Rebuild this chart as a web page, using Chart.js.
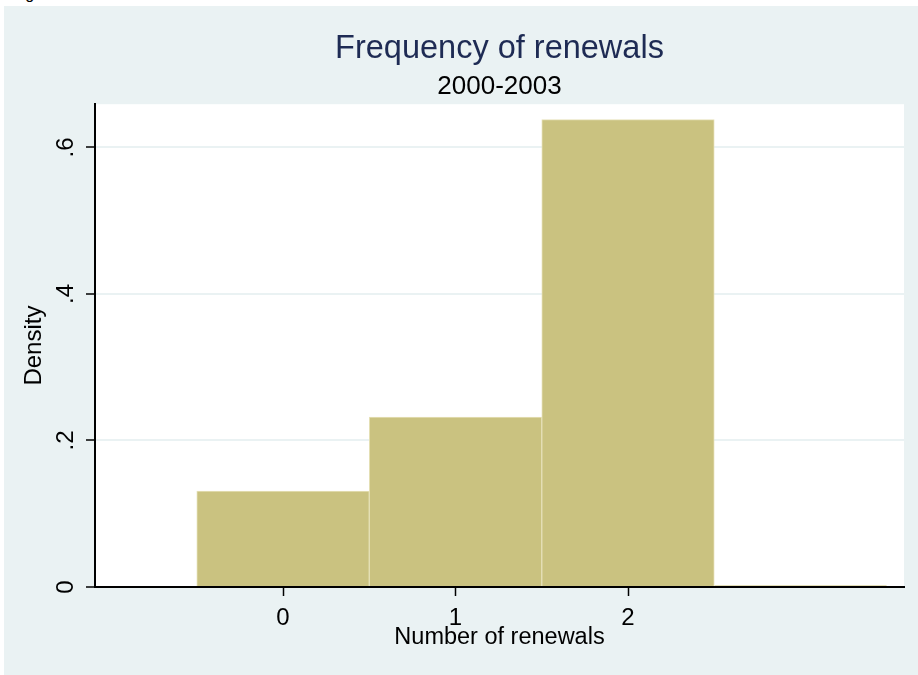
<!DOCTYPE html>
<html>
<head>
<meta charset="utf-8">
<script src="https://cdn.jsdelivr.net/npm/chart.js@4"></script>
<style>
  html, body { margin: 0; padding: 0; background: #fff; }
  #caption { position: absolute; left: 0; top: 0; width: 918px; height: 6px; overflow: hidden; }
  #caption span { position: absolute; left: 12px; top: -15px; font: 16px "Liberation Sans", Arial, sans-serif; color: #000; }
  #wrap { position: absolute; left: 4px; top: 6px; width: 914px; height: 669px; background: #eaf2f3; }
</style>
</head>
<body>
<div id="caption"><span>Figure 3.</span></div>
<div id="wrap"><canvas id="hist" width="914" height="669"></canvas></div>
<script>
// histogram data: number of renewals, density
const renewals = [0, 1, 2, 3];
const density = [0.131, 0.232, 0.638, 0.002];
const xTicks = [0, 1, 2];
const yTicks = [0, 0.2, 0.4, 0.6];
const yTickLabels = ['0', '.2', '.4', '.6'];

const FONT = '"Liberation Sans", Arial, sans-serif';
const BG = '#eaf2f3';

const ctx = document.getElementById('hist').getContext('2d');

new Chart(ctx, {
  type: 'bar',
  data: {
    datasets: [{
      data: renewals.map((r, i) => ({ x: r, y: density[i] })),
      backgroundColor: '#cac280',
      borderColor: '#e6e1b8',
      borderWidth: 1,
      borderSkipped: 'bottom',
      barPercentage: 1,
      categoryPercentage: 1
    }]
  },
  options: {
    responsive: false,
    animation: false,
    layout: { padding: { left: 0, right: 14, top: 0, bottom: 0 } },
    plugins: {
      legend: { display: false },
      tooltip: { enabled: false },
      title: {
        display: true,
        fullSize: false,
        text: 'Frequency of renewals',
        color: '#1e2b54',
        font: { family: FONT, size: 32.5, weight: 'normal' },
        padding: { top: 24, bottom: 0 }
      },
      subtitle: {
        display: true,
        fullSize: false,
        text: '2000-2003',
        color: '#000',
        font: { family: FONT, size: 26, weight: 'normal' },
        padding: { top: 2, bottom: 2 }
      }
    },
    scales: {
      x: {
        type: 'linear',
        offset: false,
        min: -1.09,
        max: 3.6,
        afterBuildTicks: s => { s.ticks = xTicks.map(v => ({ value: v })); },
        afterFit: s => { s.height = 88; },
        grid: { offset: false, drawOnChartArea: false, drawTicks: true, tickLength: 9, tickColor: '#000', tickWidth: 1.5 },
        border: { color: '#000', width: 2 },
        ticks: { color: '#000', font: { family: FONT, size: 24 }, padding: 8, maxRotation: 0 },
        title: {
          display: true,
          text: 'Number of renewals',
          color: '#000',
          font: { family: FONT, size: 23.5 },
          padding: { top: 0, bottom: 23 }
        }
      },
      y: {
        min: 0,
        max: 0.659,
        afterBuildTicks: s => { s.ticks = yTicks.map(v => ({ value: v })); },
        afterFit: s => { s.width = 91; },
        grid: { color: BG, lineWidth: 2, drawTicks: true, tickLength: 9, tickColor: '#000', tickWidth: 1.5 },
        border: { color: '#000', width: 2 },
        ticks: {
          color: '#000',
          font: { family: FONT, size: 24 },
          padding: 10,
          minRotation: 90,
          maxRotation: 90,
          crossAlign: 'center',
          callback: (v, i) => yTickLabels[i]
        },
        title: {
          display: true,
          text: 'Density',
          color: '#000',
          font: { family: FONT, size: 24 },
          padding: { top: 16, bottom: 0 }
        }
      }
    }
  },
  plugins: [{
    id: 'plotBg',
    beforeDraw(chart) {
      const a = chart.chartArea;
      chart.ctx.save();
      chart.ctx.fillStyle = '#fff';
      chart.ctx.fillRect(a.left, a.top, a.right - a.left, a.bottom - a.top);
      chart.ctx.restore();
    }
  }]
});
</script>
</body>
</html>
